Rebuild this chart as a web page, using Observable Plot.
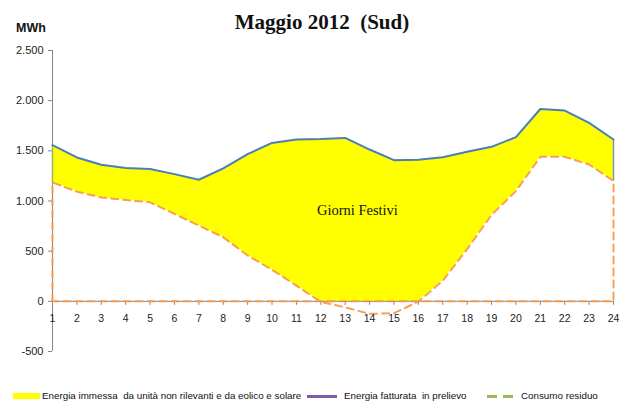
<!DOCTYPE html>
<html>
<head>
<meta charset="utf-8">
<script src="https://cdn.jsdelivr.net/npm/d3@7"></script>
<script src="https://cdn.jsdelivr.net/npm/@observablehq/plot@0.6"></script>
<style>
  body { margin: 0; background: #ffffff; }
  #wrap { position: relative; width: 624px; height: 403px; overflow: hidden; font-family: "Liberation Sans", Arial, sans-serif; background: #fff; }
  #chart svg { position: absolute; left: 0; top: 0; }
  .abs { position: absolute; white-space: pre; line-height: 1; }
  #title { left: 212px; width: 220px; top: 12px; text-align: center; font-family: "Liberation Serif", serif; font-weight: bold; font-size: 21px; color: #111; }
  #unit { left: 16px; top: 22px; font-weight: bold; font-size: 12.5px; color: #111; }
  .leg { font-size: 9.8px; color: #111; top: 391px; }
  .sw { position: absolute; }
</style>
</head>
<body>
<div id="wrap">
  <div id="chart"></div>
  <div class="abs" id="title"></div>
  <div class="abs" id="unit"></div>
  <div class="sw" id="sw1" style="left:13px;top:393px;width:27px;height:6px;background:#ffff00;"></div>
  <div class="abs leg" id="lg1" style="left:42px;"></div>
  <div class="sw" id="sw2" style="left:307px;top:395px;width:30px;height:2.5px;background:#7b5fa8;"></div>
  <div class="abs leg" id="lg2" style="left:344px;"></div>
  <div class="sw" style="left:487px;top:394.5px;width:10px;height:3px;background:#9bbb59;"></div>
  <div class="sw" style="left:503px;top:394.5px;width:10px;height:3px;background:#9bbb59;"></div>
  <div class="abs leg" id="lg3" style="left:521px;"></div>
</div>
<script>
// ---- Data ----
const titleText = "Maggio 2012  (Sud)";
const unitText = "MWh";
const hours = [1, 2, 3, 4, 5, 6, 7, 8, 9, 10, 11, 12, 13, 14, 15, 16, 17, 18, 19, 20, 21, 22, 23, 24];
// Energia fatturata in prelievo (linea blu, bordo superiore dell'area gialla)
const energiaFatturata = [1556, 1434, 1361, 1328, 1318, 1268, 1212, 1325, 1467, 1579, 1613, 1617, 1629, 1513, 1407, 1410, 1437, 1490, 1540, 1636, 1917, 1901, 1778, 1613];
// Consumo residuo (linea tratteggiata arancione)
const consumoResiduo = [1185, 1093, 1036, 1010, 987, 871, 755, 639, 457, 315, 156, -5, -60, -125, -118, -3, 205, 520, 861, 1099, 1440, 1440, 1364, 1199];
const yTicks = [-500, 0, 500, 1000, 1500, 2000, 2500];
const legendLabels = ["Energia immessa  da unità non rilevanti e da eolico e solare", "Energia fatturata  in prelievo", "Consumo residuo"];
const annotations = [{hour: 13.5, value: 910, label: "Giorni Festivi"}];

// ---- Derived tables ----
const data = hours.map((h, i) => ({hour: h, upper: energiaFatturata[i], res: consumoResiduo[i]}));
const first = data[0], last = data[data.length - 1];
const residualOutline = [
  {hour: first.hour, value: 0},
  ...data.map(d => ({hour: d.hour, value: d.res})),
  {hour: last.hour, value: 0},
  {hour: first.hour, value: 0}
];

const itLocale = d3.formatLocale({decimal: ",", thousands: ".", grouping: [3], currency: ["€", ""], minus: "-"});
const fmt = itLocale.format(",.0f");

const axisGray = "#868686";

const chart = Plot.plot({
  width: 624,
  height: 403,
  marginLeft: 52,
  marginRight: 11,
  marginTop: 50,
  marginBottom: 52,
  style: {fontFamily: "Liberation Sans, Arial, sans-serif", fontSize: "11px", background: "transparent", overflow: "visible"},
  x: {type: "linear", domain: [hours[0], hours[hours.length - 1]], axis: null},
  y: {domain: [yTicks[0], yTicks[yTicks.length - 1]], axis: null},
  marks: [
    Plot.areaY(data, {x: "hour", y1: d => Math.max(d.res, 0), y2: "upper", fill: "#ffff00", curve: "linear"}),
    Plot.ruleY([0], {stroke: axisGray, strokeWidth: 1}),
    Plot.ruleX(hours, {x: d => d, y1: 0, y2: 0, insetBottom: -4, stroke: axisGray, strokeWidth: 1}),
    Plot.ruleX([first.hour], {stroke: axisGray, strokeWidth: 1}),
    Plot.ruleX([first], {x: "hour", y1: "res", y2: "upper", stroke: "#9bbb59", strokeWidth: 1.5}),
    Plot.ruleX([last], {x: "hour", y1: "res", y2: "upper", stroke: "#7d97b8", strokeWidth: 1.5}),
    Plot.line(residualOutline, {x: "hour", y: "value", stroke: "#f79646", strokeWidth: 2, strokeDasharray: "7,5", strokeOpacity: 0.9}),
    Plot.line(data, {x: "hour", y: "upper", stroke: "#4a7ebb", strokeWidth: 2}),
    Plot.text(annotations, {x: "hour", y: "value", text: "label", fontFamily: "Liberation Serif, serif", fontSize: 14.5, fill: "#111"}),
    Plot.axisY(yTicks, {tickFormat: fmt, tickSize: 4, tickPadding: 5, stroke: axisGray, fill: "#222", fontSize: 11, label: null}),
    Plot.text(hours, {x: d => d, y: 0, text: d => String(d), dy: 17, fontSize: 10.5, fill: "#222"})
  ]
});

document.getElementById("chart").appendChild(chart);
document.getElementById("title").textContent = titleText;
document.getElementById("unit").textContent = unitText;
document.getElementById("lg1").textContent = legendLabels[0];
document.getElementById("lg2").textContent = legendLabels[1];
document.getElementById("lg3").textContent = legendLabels[2];
</script>
</body>
</html>
